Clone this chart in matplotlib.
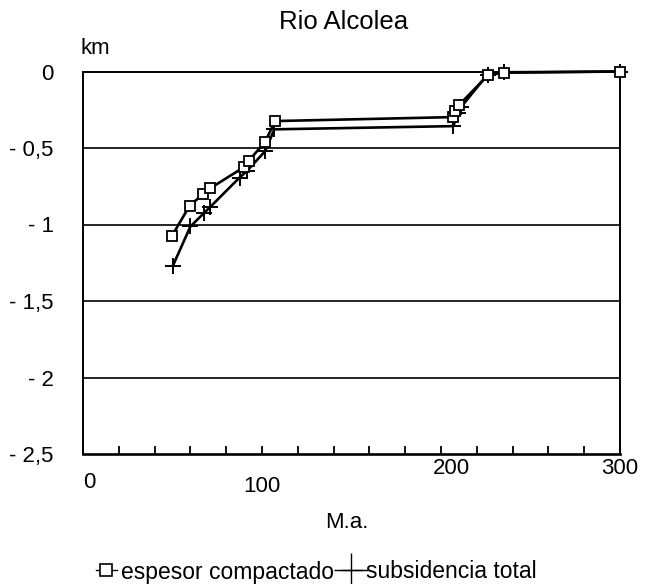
import matplotlib
matplotlib.use("Agg")
import matplotlib.pyplot as plt
from matplotlib.lines import Line2D
import matplotlib.transforms as mtransforms

plt.rcParams['font.family'] = ['Liberation Sans', 'DejaVu Sans']

title = "Rio Alcolea"
series_names = ["espesor compactado", "subsidencia total"]

# espesor compactado (squares)
ma_esp = [49.6, 59.5, 67.3, 71.1, 90.1, 92.5, 101.8, 107.3, 206.9, 207.6, 210.0, 226.2, 235.2, 300.0]
km_esp = [-1.076, -0.879, -0.798, -0.763, -0.624, -0.585, -0.459, -0.324, -0.298, -0.259, -0.220, -0.024, -0.008, 0.0]

# subsidencia total (plus)
ma_sub = [50.2, 60.0, 67.7, 71.1, 87.5, 91.6, 101.8, 106.9, 206.9, 209.3, 211.0, 226.0, 235.0, 300.0]
km_sub = [-1.27, -1.013, -0.924, -0.885, -0.693, -0.650, -0.520, -0.378, -0.357, -0.274, -0.235, -0.020, -0.005, 0.0]

y_ticks = [0, -0.5, -1, -1.5, -2, -2.5]
y_labels = ["0", "- 0,5", "- 1", "- 1,5", "- 2", "- 2,5"]
x_label_vals = [0, 100, 200, 300]
x_labels = ["0", "100", "200", "300"]

fig = plt.figure(figsize=(6.52, 5.84), dpi=100)
ax = fig.add_axes([83/652, 1-454/584, (620-83)/652, (454-71.5)/584])

ax.set_xlim(0, 300)
ax.set_ylim(-2.5, 0)

for y in y_ticks[1:-1]:
    ax.axhline(y, color='black', lw=1.2, zorder=1)

ax.plot(ma_esp, km_esp, color='black', lw=1.9, marker='s', markersize=6.5,
        markerfacecolor='white', markeredgecolor='black', markeredgewidth=1.3,
        zorder=4, clip_on=False)
ax.plot(ma_sub, km_sub, color='black', lw=1.9, marker='+', markersize=12,
        markeredgewidth=1.4, zorder=3, clip_on=False)

for s in ax.spines.values():
    s.set_color('black')
    s.set_linewidth(1.4)
ax.spines['bottom'].set_linewidth(1.9)

ax.set_yticks(y_ticks)
ax.set_yticklabels(y_labels, fontsize=16)
ax.tick_params(axis='y', length=0, pad=21)

ax.set_xticks(range(0, 301, 20))
ax.set_xticklabels([])
ax.tick_params(axis='x', direction='in', length=6, width=1.3)

# x tick labels (offset as in the original scan)
offsets = [(6, -29), (0, -33), (10, -15), (0, -14)]
for v, lab, (dx, dy) in zip(x_label_vals, x_labels, offsets):
    tr = mtransforms.offset_copy(ax.transData, fig=fig, x=dx, y=dy, units='dots')
    ax.text(v, -2.5, lab, fontsize=16, ha='center', va='center', transform=tr, clip_on=False)

fig.text(347/652, 1-522/584, "M.a.", fontsize=16, ha='center', va='center')
fig.text(344/652, 1-22/584, title, fontsize=18.5, ha='center', va='center')
fig.text(95/652, 1-48/584, "km", fontsize=16, ha='center', va='center')

handles = [
    Line2D([], [], color='black', lw=1.0, marker='s', markersize=9, markerfacecolor='white',
           markeredgecolor='black', markeredgewidth=1.2),
    Line2D([], [], color='black', lw=1.0, marker='+', markersize=24, markeredgewidth=1.0),
]
fig.legend(handles, series_names, loc='center left', bbox_to_anchor=(96/652, 1-572/584),
           ncol=2, frameon=False, fontsize=16.5, handlelength=0.9, handletextpad=0.2,
           columnspacing=0.3, borderpad=0, borderaxespad=0)

fig.savefig("out.png", dpi=100, facecolor='white')
